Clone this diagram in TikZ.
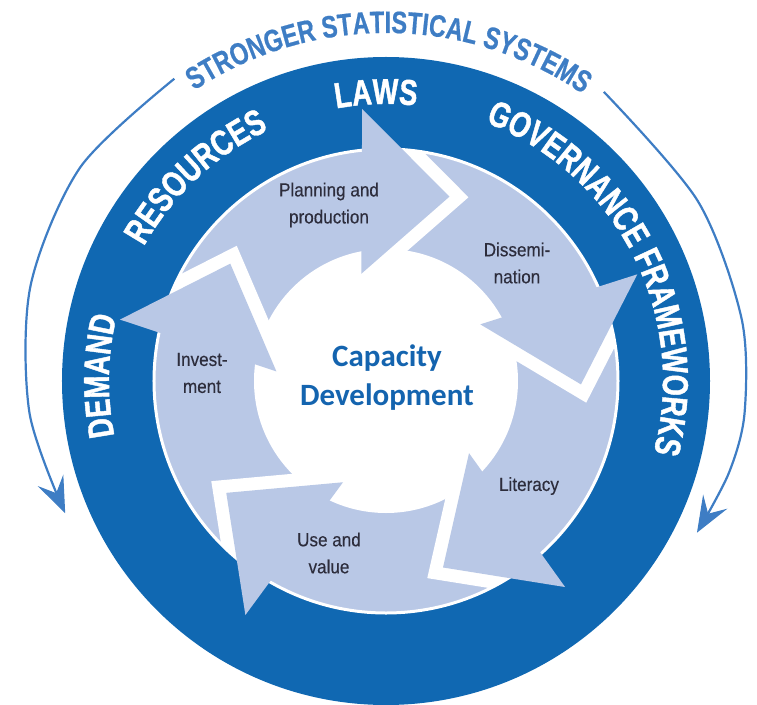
\documentclass[tikz,border=0pt]{standalone}
\usepackage{fontspec}
\usetikzlibrary{decorations.text,arrows.meta}
\newfontfamily\ringfont[FakeStretch=0.76, FakeBold=1.2]{Liberation Sans Bold}
\newfontfamily\titlefont[FakeStretch=0.76, FakeBold=0.6]{Liberation Sans Bold}
\newfontfamily\labelfont[FakeStretch=0.9, FakeBold=0.3]{Liberation Sans}
\newfontfamily\corefont{Carlito}
\definecolor{ringblue}{RGB}{16,104,178}
\definecolor{paleblue}{RGB}{185,200,230}
\definecolor{arcblue}{RGB}{62,125,196}
\definecolor{labelgray}{RGB}{45,45,60}
\definecolor{coreblue}{RGB}{20,100,175}

\begin{document}
\begin{tikzpicture}[x=1pt,y=1pt,
  steplabel/.style={text=labelgray, align=center, font=\labelfont\fontsize{19}{27}\selectfont},
  gapline/.style={draw=white, line width=26pt, line join=miter},
  outerarc/.style={color=arcblue, line width=2.2pt,
      -{Stealth[length=36pt,width=28pt,inset=14pt,line width=1pt]}},
  ringtext/.style={decorate, decoration={text along path, text align=center, text color=white,
      text={|\ringfont\fontsize{36}{36}\selectfont|#1}}}
]
\useasboundingbox (-386,-323) rectangle (371,381);

% dark ring, pale cycle band and white core
\fill[ringblue] (0,0) circle (324);
\fill[paleblue, draw=white, line width=3pt] (0,0) circle (232);
\fill[white] (0,0) circle (132);

% white gaps in front of each arrow head
\begin{scope}
  \clip (0,0) circle (231);
  \foreach \t in {71,-1,-73,-145,143}
    \draw[gapline] ({\t+24}:273) -- (\t:195) -- ({\t+32}:110);
\end{scope}

% arrow heads of the cycle
\foreach \t in {71,-1,-73,-145,143}
  \fill[paleblue] ({\t+24}:273) -- (\t:195) -- ({\t+32}:110) -- cycle;

% labels written along the dark ring
\path[ringtext=LAWS] (130:277) arc[start angle=130, end angle=54, radius=277];
\path[ringtext=RESOURCES] (170:277) arc[start angle=170, end angle=96, radius=277];
\path[ringtext=GOVERNANCE FRAMEWORKS] (87:277) arc[start angle=87, end angle=-33, radius=277];
\path[ringtext=DEMAND] (215:277) arc[start angle=215, end angle=143, radius=277];

% outer title and the two sweeping arrows
\path[decorate, decoration={text along path, text align=center, text color=arcblue,
    text={|\titlefont\fontsize{31}{31}\selectfont|STRONGER STATISTICAL SYSTEMS}}]
  (150:348) arc[start angle=150, end angle=29, radius=348];
\draw[outerarc] plot[smooth] coordinates {(125:369) (145:373) (165:368) (185:358) (202.4:347)};
\draw[outerarc] plot[smooth] coordinates {(53:362) (30:360) (10:361) (-5:360) (-15:355) (-26:346)};

% step labels
\node[steplabel] (plan) at (-57,176) {Planning and\\production};
\node[steplabel] (diss) at (131,118) {Dissemi-\\nation};
\node[steplabel] (lit) at (143,-105) {Literacy};
\node[steplabel] (use) at (-57,-172) {Use and\\value};
\node[steplabel] (inv) at (-184,8) {Invest-\\ment};
\node[text=coreblue, align=center, font=\corefont\bfseries\fontsize{31}{39}\selectfont] (core) at (1,3) {Capacity\\Development};
\end{tikzpicture}
\end{document}
